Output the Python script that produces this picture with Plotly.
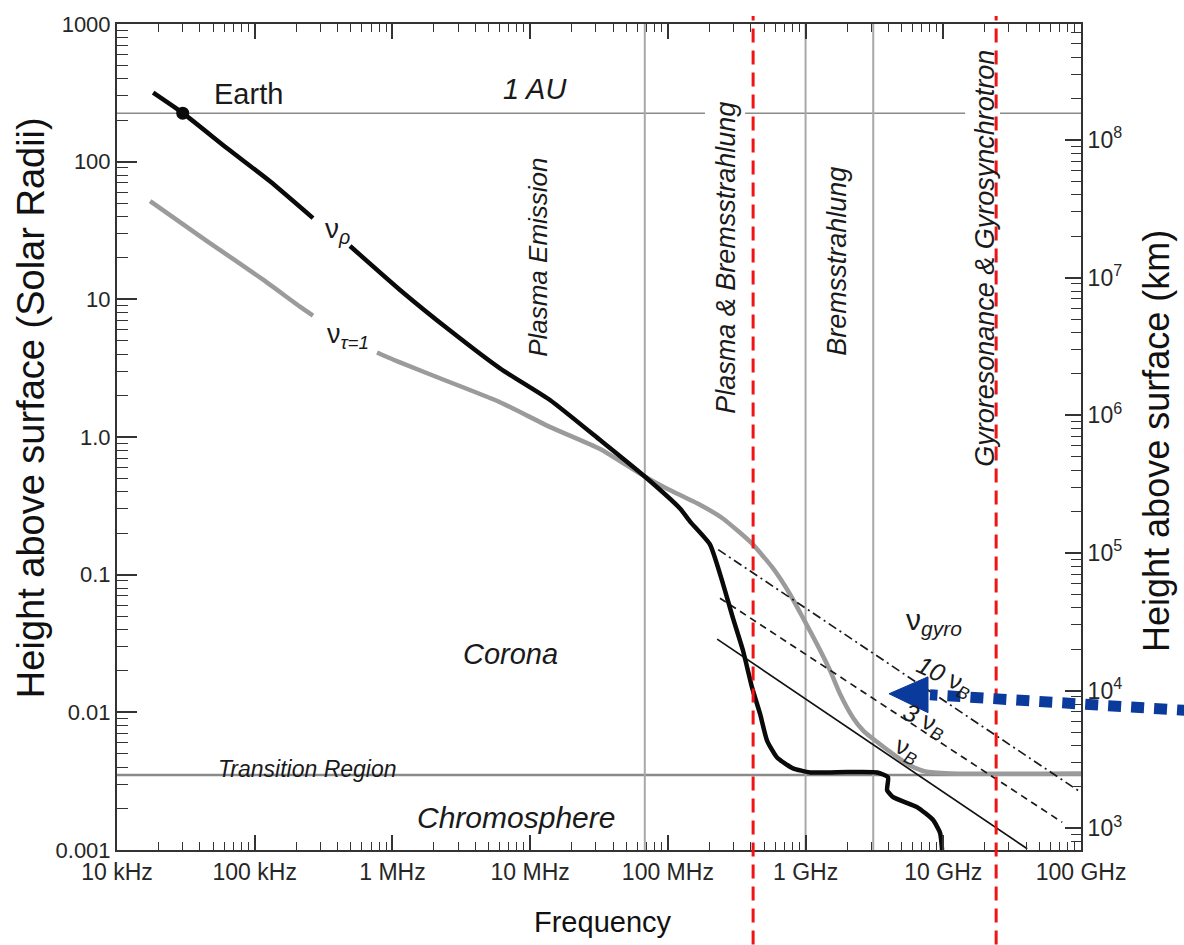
import plotly.graph_objects as go

# ---------------- data ----------------
# plasma frequency curve nu_p : frequency [Hz] vs height [solar radii]
nu_p_freq = [1.83e4, 3.01e4, 6.3e4, 1.29e5, 2.65e5, None, 4.92e5, 1.135e6, 2.62e6, 6.04e6,
             1.40e7, 3.22e7, 6.83e7, 1.23e8, 1.45e8, 2.02e8, 2.52e8,
             2.97e8, 3.52e8, 4.09e8, 4.67e8, 5.25e8, 6.21e8, 8.11e8, 1.08e9, 2.0e9, 3.31e9,
             3.97e9, 3.91e9, 4.32e9, 6.45e9, 8.43e9, 9.48e9, 9.8e9]
nu_p_height = [317, 225, 125, 72, 38.9, None, 24.4, 11.7, 5.93, 3.15,
               1.85, 0.95, 0.514, 0.301, 0.243, 0.166, 0.0851,
               0.0483, 0.0279, 0.0151, 0.00977, 0.00624, 0.0047, 0.00392, 0.00366, 0.00368, 0.00366,
               0.00337, 0.00272, 0.00242, 0.00205, 0.00165, 0.00133, 0.001]

# optical depth unity curve nu_tau=1
tau_freq = [1.74e4, 4.5e4, 1.15e5, 2.13e5, 2.65e5, None, 7.73e5, 1.135e6, 2.62e6, 6.04e6,
            1.40e7, 3.22e7, 6.83e7, 9.87e7, 1.71e8, 2.52e8, 4.09e8, 5.81e8, 7.71e8, 9.6e8,
            1.21e9, 1.51e9, 1.78e9, 2.21e9, 2.62e9, 3.2e9, 4.47e9, 5.74e9, 7.38e9, 1.12e10, 1e11]
tau_height = [51.7, 26.5, 13.9, 8.85, 7.62, None, 4.11, 3.48, 2.5, 1.79,
              1.18, 0.818, 0.514, 0.421, 0.322, 0.255, 0.168, 0.111, 0.0721, 0.0483,
              0.0313, 0.02, 0.0136, 0.00915, 0.00737, 0.00624, 0.00486, 0.00411, 0.00372, 0.0036, 0.0036]

# gyro-frequency harmonics
gyro10_freq = [2.32e8, 1e11]
gyro10_height = [0.152, 0.00262]
gyro3_freq = [2.39e8, 7.3e10]
gyro3_height = [0.0675, 0.00159]
gyro1_freq = [2.28e8, 4.07e10]
gyro1_height = [0.034, 0.00102]

# reference levels
earth_freq = [3.0e4]
earth_height = [225]
au_height = 225
transition_height = 0.0035
region_lines_freq = [6.8e7, 1.0e9, 3.1e9]
red_lines_freq = [4.16e8, 2.42e10]
au_segments = [(1e4, 1.86e8), (3.64e8, 1.44e10), (2.58e10, 1e11)]

x_tickvals = [1e4, 1e5, 1e6, 1e7, 1e8, 1e9, 1e10, 1e11]
x_ticktext = ["10 kHz", "100 kHz", "1 MHz", "10 MHz", "100 MHz", "1 GHz", "10 GHz", "100 GHz"]
y_tickvals = [1e-3, 1e-2, 1e-1, 1, 10, 100, 1000]
y_ticktext = ["0.001", "0.01", "0.1", "1.0", "10", "100", "1000"]
km_tickvals = [1e3, 1e4, 1e5, 1e6, 1e7, 1e8]
km_ticktext = ["10<sup>3</sup>", "10<sup>4</sup>", "10<sup>5</sup>", "10<sup>6</sup>",
               "10<sup>7</sup>", "10<sup>8</sup>"]
R_SUN_KM = 6.96e5

# ---------------- layout geometry ----------------
W, H = 1184, 945
L, R, T, B = 117, 103, 20, 95
PW, PH = W - L - R, H - T - B


def xp(px):
    return (px - L) / PW


def yp(py):
    return (H - B - py) / PH


def minor_vals(lo, hi):
    out = []
    for d in range(lo, hi + 1):
        for k in range(2, 10):
            out.append(k * 10.0 ** d)
    return out


FONT = "Liberation Sans, Arial, sans-serif"
AXC = "#333333"

fig = go.Figure()

fig.add_trace(go.Scatter(x=tau_freq, y=tau_height, mode="lines",
                         line=dict(color="#9b9b9b", width=4.5, shape="spline", smoothing=0.5),
                         connectgaps=False, hoverinfo="skip"))
fig.add_trace(go.Scatter(x=gyro10_freq, y=gyro10_height, mode="lines",
                         line=dict(color="#1a1a1a", width=1.7, dash="9px,4px,2px,4px"),
                         hoverinfo="skip"))
fig.add_trace(go.Scatter(x=gyro3_freq, y=gyro3_height, mode="lines",
                         line=dict(color="#1a1a1a", width=1.7, dash="7px,5px"),
                         hoverinfo="skip"))
fig.add_trace(go.Scatter(x=gyro1_freq, y=gyro1_height, mode="lines",
                         line=dict(color="#111111", width=1.7), hoverinfo="skip"))
fig.add_trace(go.Scatter(x=nu_p_freq, y=nu_p_height, mode="lines",
                         line=dict(color="#0a0a0a", width=4.5, shape="spline", smoothing=0.5),
                         connectgaps=False, hoverinfo="skip"))
fig.add_trace(go.Scatter(x=earth_freq, y=earth_height, mode="markers",
                         marker=dict(color="#0a0a0a", size=13), hoverinfo="skip"))
# invisible trace so the km axis has a subplot
fig.add_trace(go.Scatter(x=[1e5], y=[transition_height * R_SUN_KM], yaxis="y2",
                         mode="markers", marker=dict(opacity=0), hoverinfo="skip"))

shapes = []
for x0, x1 in au_segments:
    shapes.append(dict(type="line", xref="x", yref="y", x0=x0, x1=x1, y0=au_height, y1=au_height,
                       line=dict(color="#8a8a8a", width=1.6), layer="below"))
shapes.append(dict(type="line", xref="x", yref="y", x0=1e4, x1=1e11,
                   y0=transition_height, y1=transition_height,
                   line=dict(color="#8a8a8a", width=2.5), layer="below"))
for f in region_lines_freq:
    shapes.append(dict(type="line", xref="x", yref="y", x0=f, x1=f, y0=1e-3, y1=1e3,
                       line=dict(color="#a8a8a8", width=2), layer="below"))
for f in red_lines_freq:
    shapes.append(dict(type="line", xref="x", yref="paper", x0=f, x1=f,
                       y0=yp(H), y1=yp(12),
                       line=dict(color="#f01414", width=3, dash="14px,8px"), layer="above"))
# blue dotted arrow
BLUE = "#0a3a9c"
shapes.append(dict(type="line", xref="paper", yref="paper",
                   x0=xp(1190), y0=yp(710), x1=xp(930), y1=yp(694),
                   line=dict(color=BLUE, width=11, dash="13px,10px"), layer="above"))
shapes.append(dict(type="path", xref="paper", yref="paper",
                   path=f"M {xp(889)},{yp(693)} L {xp(928)},{yp(676)} L {xp(928)},{yp(712)} Z",
                   fillcolor=BLUE, line=dict(color=BLUE, width=1), layer="above"))

annotations = []


def add_text(px, py, text, size, angle=0, italic=False, color="#1a1a1a"):
    annotations.append(dict(xref="paper", yref="paper", x=xp(px), y=yp(py), text=text,
                            showarrow=False, textangle=angle, xanchor="center",
                            yanchor="middle",
                            font=dict(family=FONT, size=size, color=color,
                                      style="italic" if italic else "normal")))


add_text(248, 90, "Earth", 29)
add_text(535, 85, "1 AU", 29, italic=True)
add_text(538, 255, "Plasma Emission", 26, -90, True)
add_text(726, 255, "Plasma &amp; Bremsstrahlung", 27, -90, True)
add_text(837, 259, "Bremsstrahlung", 27, -90, True)
add_text(985, 256, "Gyroresonance &amp; Gyrosynchrotron", 27, -90, True)
add_text(510, 653, "Corona", 29, italic=True)
add_text(516, 817, "Chromosphere", 30, italic=True)
add_text(307, 769, "Transition Region", 23, italic=True)
add_text(337, 228, "ν<sub><i>ρ</i></sub>", 28)
add_text(348, 334, "ν<sub><i>τ=1</i></sub>", 27)
add_text(934, 620, "ν<sub><i>gyro</i></sub>", 30)
add_text(944, 676, "<i>10</i> ν<sub><i>B</i></sub>", 25, 25)
add_text(924, 720, "<i>3</i> ν<sub><i>B</i></sub>", 25, 25)
add_text(907, 750, "ν<sub><i>B</i></sub>", 25, 25)
# axis titles
add_text(31, 406, "Height above surface (Solar Radii)", 38, -90, color="#111111")
add_text(1157, 439, "Height above surface (km)", 36, -90, color="#111111")
add_text(603, 922, "Frequency", 29, color="#111111")

fig.update_layout(
    width=W, height=H,
    margin=dict(l=L, r=R, t=T, b=B),
    paper_bgcolor="white", plot_bgcolor="white",
    showlegend=False,
    shapes=shapes, annotations=annotations,
    xaxis=dict(type="log", range=[4, 11], showgrid=False, zeroline=False,
               showline=True, linecolor=AXC, linewidth=2, mirror="ticks",
               ticks="inside", ticklen=15, tickwidth=1.5, tickcolor=AXC,
               tickmode="array", tickvals=x_tickvals, ticktext=x_ticktext,
               tickfont=dict(family=FONT, size=23, color="#262626"),
               minor=dict(tickmode="array", tickvals=minor_vals(4, 10), ticks="inside",
                          ticklen=8, tickwidth=1.3, tickcolor=AXC, showgrid=False)),
    yaxis=dict(type="log", range=[-3, 3], showgrid=False, zeroline=False,
               showline=True, linecolor=AXC, linewidth=2,
               ticks="inside", ticklen=20, tickwidth=1.5, tickcolor=AXC,
               tickmode="array", tickvals=y_tickvals, ticktext=y_ticktext,
               tickfont=dict(family=FONT, size=22, color="#262626"),
               minor=dict(tickmode="array", tickvals=minor_vals(-3, 2), ticks="inside",
                          ticklen=11, tickwidth=1.3, tickcolor=AXC, showgrid=False)),
    yaxis2=dict(type="log", overlaying="y", side="right", anchor="x",
                range=[-3 + 5.8426, 3 + 5.8426], showgrid=False, zeroline=False,
                showline=True, linecolor=AXC, linewidth=2,
                ticks="inside", ticklen=16, tickwidth=1.5, tickcolor=AXC,
                tickmode="array", tickvals=km_tickvals, ticktext=km_ticktext,
                tickfont=dict(family=FONT, size=23, color="#262626"),
                minor=dict(tickmode="array", tickvals=minor_vals(2, 8), ticks="inside",
                           ticklen=10, tickwidth=1.3, tickcolor=AXC, showgrid=False)),
)

fig.write_html("out.html")
